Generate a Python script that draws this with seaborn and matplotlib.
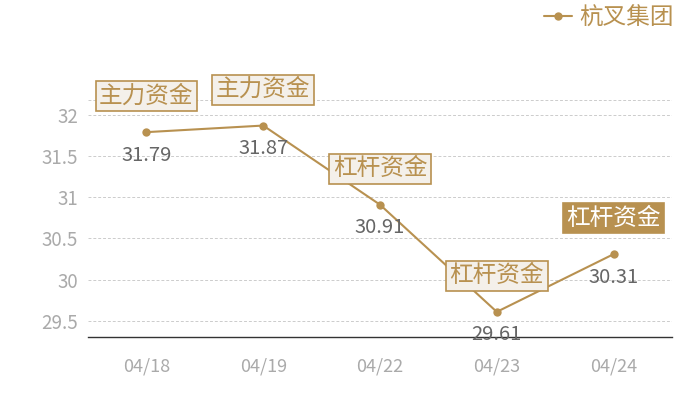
import pandas as pd
import matplotlib
matplotlib.use('Agg')
import matplotlib.pyplot as plt
import seaborn as sns

dates = ['04/18', '04/19', '04/22', '04/23', '04/24']
values = [31.79, 31.87, 30.91, 29.61, 30.31]
tags = ['主力资金', '主力资金', '杠杆资金', '杠杆资金', '杠杆资金']
series_name = '杭叉集团'

gold = '#b89150'

sns.set_style('white')
plt.rcParams['font.family'] = ['Noto Sans CJK SC', 'DejaVu Sans']

df = pd.DataFrame({'date': dates, 'value': values})

fig = plt.figure(figsize=(7, 4), dpi=100)
ax = fig.add_axes([88 / 700, 1 - 337 / 400, 584 / 700, 237 / 400])

sns.lineplot(data=df, x='date', y='value', ax=ax, color=gold, marker='o',
             markersize=6, markeredgewidth=0, linewidth=1.5, label=series_name)

ax.set_xlim(-0.5, len(dates) - 0.5)
ax.set_ylim(29.305, 32.18)
ax.set_yticks([29.5, 30, 30.5, 31, 31.5, 32])
ax.set_yticklabels(['29.5', '30', '30.5', '31', '31.5', '32'])
ax.set_xlabel('')
ax.set_ylabel('')

for y in [29.5, 30, 30.5, 31, 31.5, 32, 32.18]:
    ax.axhline(y, color='#cccccc', linestyle=(0, (3, 2)), linewidth=0.7, zorder=0)

for s in ['left', 'right', 'top']:
    ax.spines[s].set_visible(False)
ax.spines['bottom'].set_color('#333333')
ax.spines['bottom'].set_linewidth(1)

ax.tick_params(axis='y', length=0, pad=7, labelsize=13.5, labelcolor='#aaaaaa')
ax.tick_params(axis='x', length=0, pad=15, labelsize=13, labelcolor='#aaaaaa')

# value labels under each point
for i, v in enumerate(values):
    ax.annotate(f'{v:.2f}', (i, v), xytext=(0, -23), textcoords='offset pixels',
                ha='center', va='center', fontsize=14.5, color='#666666', zorder=6)

# tag boxes above each point, last one highlighted
for i, (v, t) in enumerate(zip(values, tags)):
    last = i == len(values) - 1
    ax.annotate(t, (i, v), xytext=(0, 36), textcoords='offset pixels',
                ha='center', va='center', fontsize=17,
                color='white' if last else gold, zorder=7,
                bbox=dict(boxstyle='square,pad=0.15',
                          fc=gold if last else '#f4f0ea',
                          ec=gold, lw=1.2))

leg = ax.legend(loc='center right', bbox_to_anchor=(683 / 700, 1 - 18 / 400),
                bbox_transform=fig.transFigure, frameon=False, fontsize=17,
                handlelength=1.2, handletextpad=0.3, borderaxespad=0)
for txt in leg.get_texts():
    txt.set_color(gold)

fig.savefig('out.png', dpi=100)
